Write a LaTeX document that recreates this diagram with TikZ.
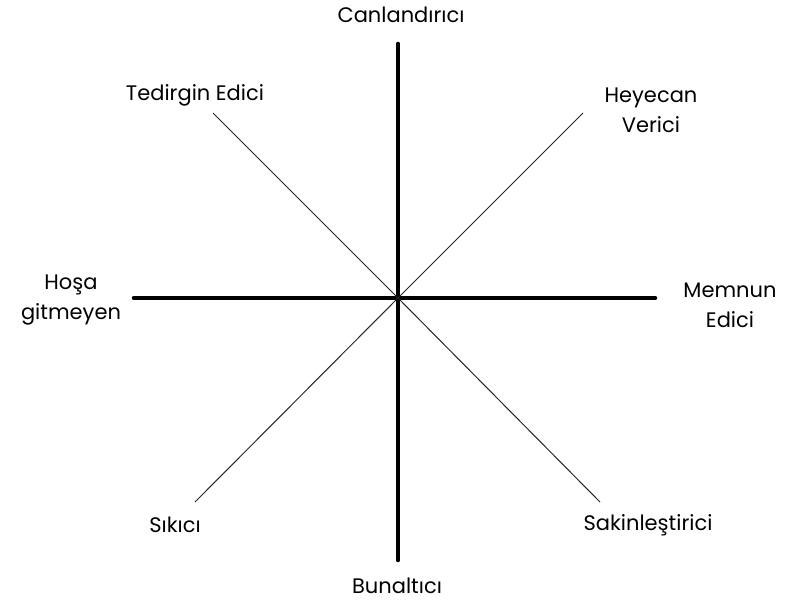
\documentclass[tikz,border=0pt]{standalone}
\usepackage{fontspec}
\setmainfont{Poppins}
\usetikzlibrary{positioning}

\tikzset{
  mainaxis/.style={line width=4.6pt,line cap=round},
  diagaxis/.style={line width=1pt,black!85},
  moodlbl/.style={font=\fontsize{21}{30}\selectfont,align=center,inner sep=0pt}
}

\begin{document}
\begin{tikzpicture}[x=1pt,y=-1pt,line join=round]
  \useasboundingbox (0,0) rectangle (786,605);
  % centre and axis ends
  \coordinate (mid) at (398,298);
  \coordinate (top) at (398,44);
  \coordinate (bot) at (398,560);
  \coordinate (lft) at (134,298);
  \coordinate (rgt) at (655,298);
  \coordinate (ul) at (213,113);
  \coordinate (ur) at (583,113);
  \coordinate (ll) at (195,502);
  \coordinate (lr) at (600,502);

  \draw[mainaxis] (top) -- (bot);
  \draw[mainaxis] (lft) -- (rgt);
  \draw[diagaxis] (ul) -- (mid) -- (lr);
  \draw[diagaxis] (ll) -- (mid) -- (ur);

  % labels
  \node[moodlbl] (arousing) at (401,15) {Canlandırıcı};
  \node[moodlbl] (distress) at (195,95) {Tedirgin Edici};
  \node[moodlbl] (exciting) at (651,110) {Heyecan\\Verici};
  \node[moodlbl] (unpleas) at (71,300) {Hoşa\\gitmeyen};
  \node[moodlbl] (pleas) at (730,305) {Memnun\\Edici};
  \node[moodlbl] (boring) at (175,525) {Sıkıcı};
  \node[moodlbl] (relax) at (648,525) {Sakinleştirici};
  \node[moodlbl] (sleepy) at (397,586) {Bunaltıcı};
\end{tikzpicture}
\end{document}
